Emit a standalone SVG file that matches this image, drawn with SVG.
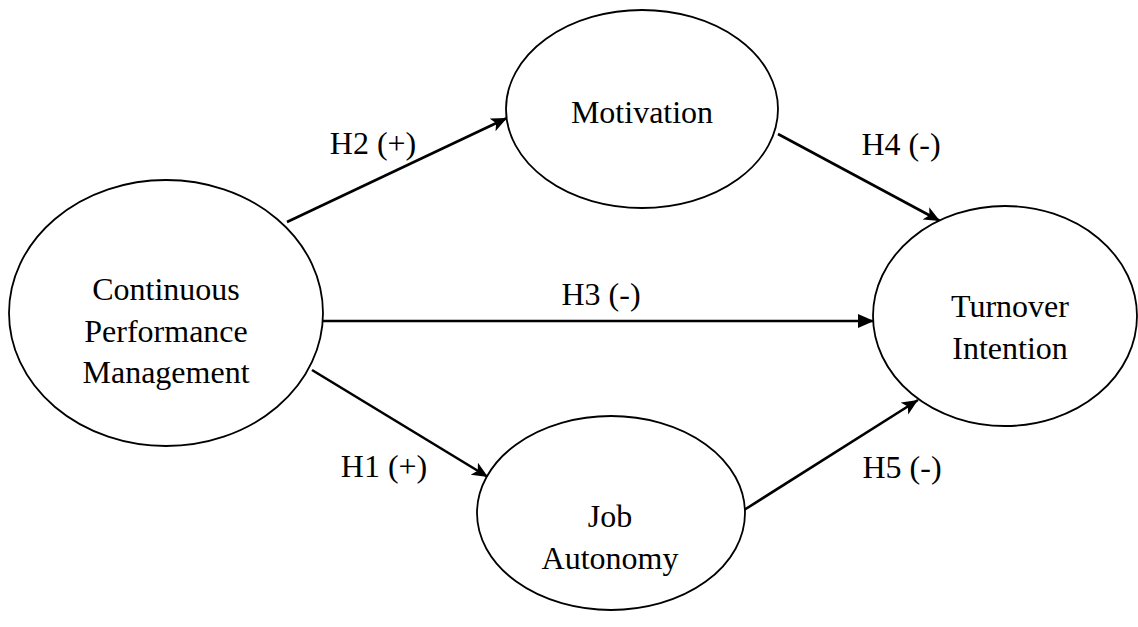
<svg xmlns="http://www.w3.org/2000/svg" width="1138" height="627" viewBox="0 0 1138 627">
<style>
.node ellipse{fill:#fff;stroke:#000;stroke-width:1.8}
text{font-family:"Liberation Serif","Times New Roman",serif;font-size:32px;fill:#000;text-anchor:middle}
.edge{stroke:#000;stroke-width:2.6;fill:none}
</style>
<defs>
<marker id="ah" markerUnits="userSpaceOnUse" markerWidth="20" markerHeight="16" refX="16" refY="7" orient="auto">
<path d="M0,0 L16,7 L0,14 L4,7 z" fill="#000"/>
</marker>
<marker id="tri" markerUnits="userSpaceOnUse" markerWidth="20" markerHeight="16" refX="16" refY="7" orient="auto">
<path d="M0,0 L16,7 L0,14 z" fill="#000"/>
</marker>
</defs>
<rect width="1138" height="627" fill="#fff"/>
<g id="connectors">
<line class="edge" x1="287" y1="222" x2="507" y2="118" marker-end="url(#ah)"/>
<line class="edge" x1="778" y1="134" x2="940" y2="221" marker-end="url(#ah)"/>
<line class="edge" x1="323" y1="321" x2="874" y2="321" marker-end="url(#tri)"/>
<line class="edge" x1="312" y1="370" x2="488" y2="477" marker-end="url(#ah)"/>
<line class="edge" x1="744" y1="510" x2="918" y2="400" marker-end="url(#ah)"/>
</g>
<g id="labels">
<text x="373" y="154">H2 (+)</text>
<text x="901" y="155">H4 (-)</text>
<text x="601" y="305">H3 (-)</text>
<text x="384" y="477">H1 (+)</text>
<text x="902" y="478">H5 (-)</text>
</g>
<g id="cpm" class="node">
<ellipse cx="166" cy="313" rx="157" ry="133"/>
<text x="166" y="300">Continuous</text>
<text x="166" y="342">Performance</text>
<text x="166" y="383">Management</text>
</g>
<g id="motivation" class="node">
<ellipse cx="642" cy="109" rx="136" ry="99"/>
<text x="642" y="123">Motivation</text>
</g>
<g id="turnover" class="node">
<ellipse cx="1005" cy="316" rx="132" ry="110"/>
<text x="1010" y="317">Turnover</text>
<text x="1010" y="359">Intention</text>
</g>
<g id="autonomy" class="node">
<ellipse cx="611" cy="513" rx="134" ry="97"/>
<text x="610" y="527">Job</text>
<text x="610" y="569">Autonomy</text>
</g>
</svg>
